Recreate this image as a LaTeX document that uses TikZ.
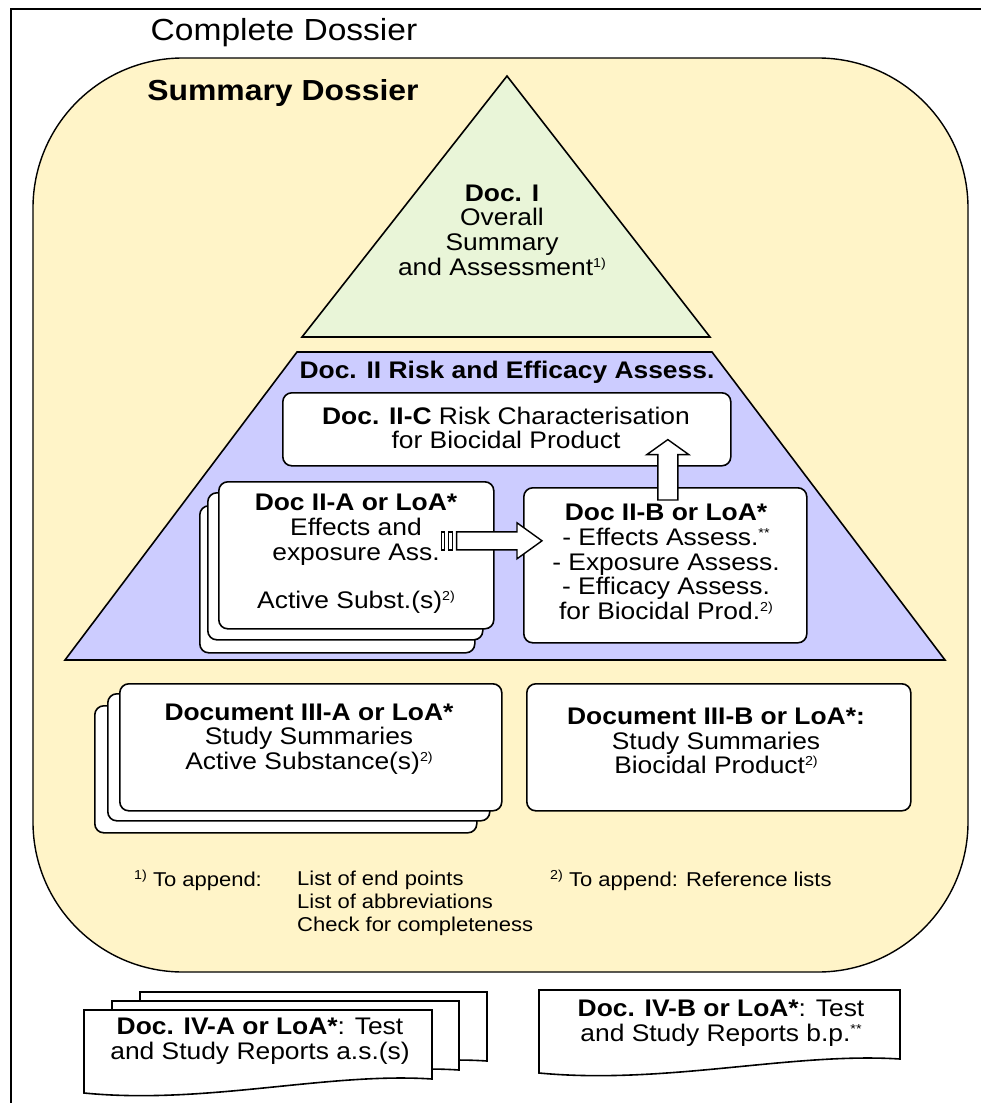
\documentclass[tikz,border=0pt]{standalone}
\usepackage{fontspec}
\setmainfont{Liberation Sans}[FakeStretch=1.1]
\usetikzlibrary{calc}

\definecolor{dossieryellow}{RGB}{255,244,200}
\definecolor{docgreen}{RGB}{233,245,216}
\definecolor{docblue}{RGB}{204,204,255}

\newcommand\titlefont{\fontsize{30.5}{32}\selectfont}
\newcommand\bodyfont{\fontsize{24}{24.6}\selectfont}
\newcommand\notefont{\fontsize{20}{23}\selectfont}
\newcommand\fnmark[1]{\raisebox{0.33em}{\fontsize{13}{13}\selectfont #1}}

\tikzset{
  frame/.style={draw, line width=1.6pt},
  sheet/.style={draw, line width=1.6pt, fill=white, rounded corners=9pt,
                anchor=north west, inner sep=0pt},
  txt/.style={align=center, font=\bodyfont, inner sep=0pt},
  note/.style={font=\notefont, inner sep=0pt},
  blockarrow/.style={draw, line width=1.4pt, fill=white},
}

% document sheet with wavy lower edge: name, x, y, width
\newcommand\docsheet[4]{%
  \draw[frame, fill=white] (#2,#3) coordinate (#1) -- ({#2+#4},#3) -- ({#2+#4},{#3+69})
    .. controls ({#2+0.7*#4},{#3+62}) and ({#2+0.35*#4},{#3+95}) .. (#2,{#3+83}) -- cycle;}

\begin{document}
\begin{tikzpicture}[x=1pt, y=-1pt]
\useasboundingbox (0,0) rectangle (981,1103);
\clip (0,0) rectangle (981,1103);

% complete dossier frame
\draw[frame] (11,9) rectangle (1010,1130);
\node[font=\titlefont, inner sep=0pt] (complete) at (284,33) {Complete Dossier};

% summary dossier
\draw[draw, line width=1.4pt, fill=dossieryellow, rounded corners=150pt] (33,58) rectangle (968,972);
\node[font=\fontsize{29}{30}\selectfont\bfseries, inner sep=0pt] (summary) at (283,93) {Summary Dossier};

% Doc I
\draw[frame, fill=docgreen] (507,76) -- (710,337) -- (302,337) -- cycle;
\node[txt] (docI) at (502,230) {\textbf{Doc. I}\\Overall\\Summary\\and Assessment\fnmark{1)}};

% Doc II
\draw[frame, fill=docblue] (297,352) -- (712,352) -- (945,660) -- (65,660) -- cycle;
\node[txt, font=\bodyfont\bfseries] (docII) at (507,372) {Doc. II Risk and Efficacy Assess.};

\node[sheet, minimum width=448pt, minimum height=73pt] (iiC) at (282,392) {};
\node[txt] (iiCtext) at (506,428) {\textbf{Doc. II-C} Risk Characterisation\\for Biocidal Product};

\foreach \dx/\dy [count=\i] in {-19/24, -11/11}
  \node[sheet, minimum width=275pt, minimum height=147pt] (iiAback\i) at ({218+\dx},{481+\dy}) {};
\node[sheet, minimum width=275pt, minimum height=147pt] (iiA) at (218,481) {};
\node[txt] (iiAtext) at (356,554) {\textbf{Doc II-A or LoA*}\\Effects and\\exposure Ass.\\[24pt]Active Subst.(s)\fnmark{2)}};

\node[sheet, minimum width=283pt, minimum height=155pt] (iiB) at (523,487) {};
\node[txt] (iiBtext) at (666,562) {\textbf{Doc II-B or LoA*}\\- Effects Assess.\fnmark{**}\\- Exposure Assess.\\- Efficacy Assess.\\for Biocidal Prod.\fnmark{2)}};

% arrow II-A to II-B
\coordinate (abtail) at ($(iiA.east)+(-53,-14.5)$);
\coordinate (abtip) at ($(iiB.west)+(19,-24.5)$);
\draw[blockarrow] ($(abtail)+(15,-9)$) -- ($(abtip)+(-25,-9)$) -- ($(abtip)+(-25,-18)$) -- (abtip)
  -- ($(abtip)+(-25,18)$) -- ($(abtip)+(-25,9)$) -- ($(abtail)+(15,9)$) -- cycle;
\draw[blockarrow] ($(abtail)+(0,-9)$) rectangle ($(abtail)+(3,9)$);
\draw[blockarrow] ($(abtail)+(7,-9)$) rectangle ($(abtail)+(11,9)$);

% arrow II-B to II-C
\coordinate (upfoot) at ($(iiB.north)+(2.5,13)$);
\coordinate (uptip) at ($(iiC.south)+(161,-27)$);
\draw[blockarrow] ($(upfoot)+(-10,0)$) -- ($(uptip)+(-10,15)$) -- ($(uptip)+(-21,15)$) -- (uptip)
  -- ($(uptip)+(21,15)$) -- ($(uptip)+(10,15)$) -- ($(upfoot)+(10,0)$) -- cycle;

% Doc III
\foreach \dx/\dy [count=\i] in {-25/22, -12/10}
  \node[sheet, minimum width=382pt, minimum height=127pt] (iiiAback\i) at ({119+\dx},{683+\dy}) {};
\node[sheet, minimum width=382pt, minimum height=127pt] (iiiA) at (119,683) {};
\node[txt] (iiiAtext) at (309,739) {\textbf{Document III-A or LoA*}\\Study Summaries\\Active Substance(s)\fnmark{2)}};

\node[sheet, minimum width=384pt, minimum height=127pt] (iiiB) at (526,683) {};
\node[txt] (iiiBtext) at (716,741) {\textbf{Document III-B or LoA*:}\\Study Summaries\\Biocidal Product\fnmark{2)}};

% footnotes
\node[note, anchor=base west] (fnA) at (134,886) {\fnmark{1)} To append:};
\node[note, anchor=north west, align=left] (fnAlist) at (297,871) {List of end points\\List of abbreviations\\Check for completeness};
\node[note, anchor=base west] (fnB) at (550,886) {\fnmark{2)} To append: Reference lists};

% Doc IV
\docsheet{ivAback2}{140}{992}{347}
\docsheet{ivAback1}{112}{1001}{347}
\docsheet{ivA}{84}{1010}{348}
\node[txt] (ivAtext) at (260,1041) {\textbf{Doc. IV-A or LoA*}: Test\\and Study Reports a.s.(s)};

\docsheet{ivB}{539}{990}{361}
\node[txt] (ivBtext) at (721,1023) {\textbf{Doc. IV-B or LoA*}: Test\\and Study Reports b.p.\fnmark{**}};
\end{tikzpicture}
\end{document}
